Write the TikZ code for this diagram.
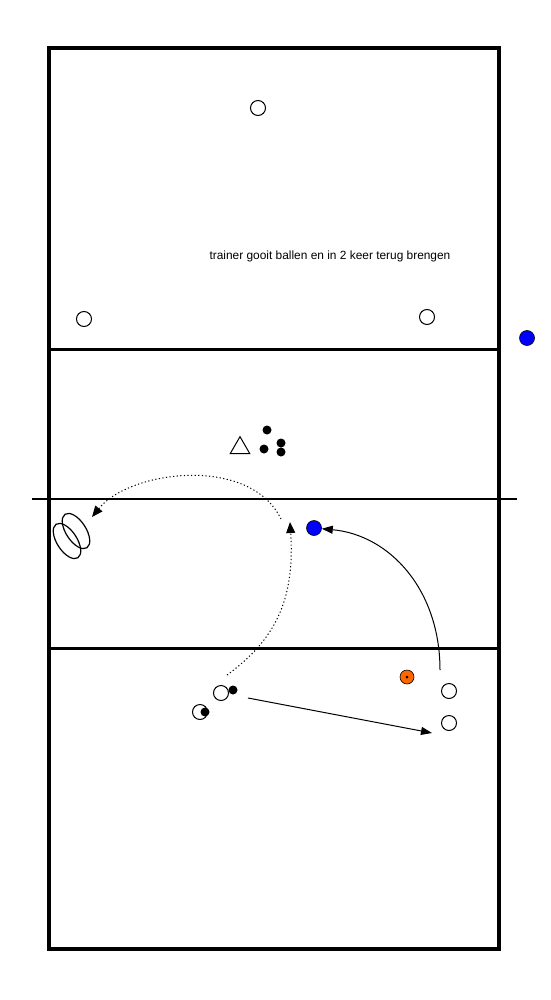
\documentclass[tikz,border=0pt]{standalone}
\usepackage{fontspec}
\setmainfont{Liberation Sans}
\usetikzlibrary{arrows.meta, shapes.geometric}
\begin{document}
\begin{tikzpicture}[
    x=1pt, y=-1pt,
    player/.style={circle, draw=black, fill=white, line width=1pt, inner sep=0pt, minimum size=15pt},
    ball/.style={circle, draw=black, fill=#1, line width=0.6pt, inner sep=0pt, minimum size=15pt},
    cone/.style={circle, fill=black, inner sep=0pt, minimum size=9pt},
    run/.style={draw, line width=1pt, dash pattern=on 1.2pt off 2.4pt, -{Triangle[length=11pt,width=9pt]}},
    pass/.style={draw, line width=1pt, -{Triangle[length=11pt,width=8pt]}}
]
\useasboundingbox (0,0) rectangle (550,1000);
% court
\draw[line width=4pt] (49,48) rectangle (499,949);
\draw[line width=3pt] (49,349) -- (499,349);
\draw[line width=3pt] (49,648) -- (499,648);
\draw[line width=1.5pt] (32,499) -- (517,499);
% far side
\node[player] (p1) at (258,108) {};
\node[player] (p2) at (84,319) {};
\node[player] (p3) at (427,317) {};
\node[ball=blue] (b1) at (527,338) {};
\node[font=\fontsize{11.9}{14}\selectfont] (txt) at (330,256) {trainer gooit ballen en in 2 keer terug brengen};
% trainer and balls
\node[draw, isosceles triangle, isosceles triangle apex angle=60, shape border rotate=90, line width=1pt, inner sep=0pt, minimum size=17pt] (tr) at (240,448) {};
\node[cone] (c1) at (267,430) {};
\node[cone] (c2) at (281,443) {};
\node[cone] (c3) at (264,449) {};
\node[cone] (c4) at (281,452) {};
% hoops
\draw[line width=1.2pt, rotate around={-57:(67,541)}] (67,541) ellipse (20 and 10);
\draw[line width=1.2pt, rotate around={-57:(76,531)}] (76,531) ellipse (20 and 10);
\coordinate (hoop) at (92,517);
\node[ball=blue] (b2) at (314,528) {};
% near side
\node[player] (p4) at (221,693) {};
\node[cone] (d4) at (233,690) {};
\node[player] (p5) at (200,712) {};
\node[cone] (d5) at (205,712) {};
\node[ball=orange!80!red, minimum size=14pt] (b3) at (407,677) {};
\fill (b3) circle (1.5);
\node[player] (p6) at (449,691) {};
\node[player] (p7) at (449,723) {};
% movements
\coordinate (s1) at (227,675);
\coordinate (e1) at (290,522);
\coordinate (s2) at (281,519);
\coordinate (s3) at (440,670);
\coordinate (s4) at (248,698);
\coordinate (e4) at (432,733);
\path[run] (s1) .. controls (275,640) and (295,600) .. (e1);
\path[run] (s2) .. controls (250,455) and (130,470) .. (hoop);
\path[pass] (s3) .. controls (440,590) and (390,535) .. (b2);
\path[pass] (s4) -- (e4);
\end{tikzpicture}
\end{document}
